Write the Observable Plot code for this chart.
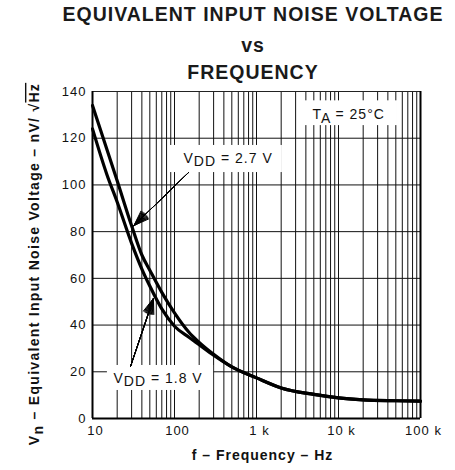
<!DOCTYPE html>
<html><head><meta charset="utf-8">
<script src="https://cdn.jsdelivr.net/npm/d3@7"></script>
<script src="https://cdn.jsdelivr.net/npm/@observablehq/plot@0.6"></script>
<style>
body{margin:0;background:#fff;font-family:"Liberation Sans",Arial,sans-serif;overflow:hidden;}
#title{width:455px;height:80px;position:relative;}
.t{position:absolute;left:53px;width:400px;text-align:center;font-weight:bold;font-size:19.5px;line-height:20px;letter-spacing:1px;color:#1a1a1a;white-space:nowrap;}
</style></head><body>
<div id="title">
<div class="t" style="top:4px">EQUIVALENT INPUT NOISE VOLTAGE</div>
<div class="t" style="top:35px">vs</div>
<div class="t" style="top:62px">FREQUENCY</div>
</div>
<div id="chart"></div>
<script>
// Curve for VDD = 2.7 V (upper)
const freq27 = [10, 20, 30, 40, 50, 70, 100, 150, 200, 300, 500, 1000, 2000, 5000, 10000, 20000, 50000, 100000];
const vn27   = [134, 101.8, 82.5, 70, 63.5, 54, 45.2, 36.9, 32.6, 27.5, 22.1, 17.4, 13.1, 10.3, 8.8, 8.0, 7.6, 7.4];
// Curve for VDD = 1.8 V (lower)
const freq18 = [10, 15, 20, 30, 40, 50, 70, 100, 150, 200, 300, 500, 1000, 2000, 5000, 10000, 20000, 50000, 100000];
const vn18   = [124, 104.4, 92.7, 75, 64, 56.7, 46.9, 39.5, 34.8, 31.6, 27.1, 22.1, 17.4, 13.1, 10.3, 8.8, 8.0, 7.6, 7.4];

const xTicks = [10, 100, 1000, 10000, 100000];
const xTickLabels = ["10", "100", "1 k", "10 k", "100 k"];
const yTicks = [0, 20, 40, 60, 80, 100, 120, 140];
const decades = [10, 100, 1000, 10000];
const mult = [1, 2, 3, 4, 5, 6, 7, 8, 9];

// annotations
const labelText = ["V{DD} = 2.7 V", "V{DD} = 1.8 V", "T{A} = 25°C"];
const labelF = [128.8, 18.0, 4820];
const labelV = [111.5, 17.3, 130.2];
const boxF1 = [89, 15.2, 3743];
const boxF2 = [2070, 300, 52400];
const boxV1 = [105.3, 12, 125.4];
const boxV2 = [116.9, 22.7, 136];
const arrowF1 = [148.2, 29.1];
const arrowV1 = [105.3, 22.3];
const arrowF2 = [32.0, 55.4];
const arrowV2 = [82.6, 51.4];

const d27 = freq27.map((f, i) => ({f, v: vn27[i]}));
const d18 = freq18.map((f, i) => ({f, v: vn18[i]}));
const gridX = decades.flatMap(d => mult.map(m => d * m)).filter(f => f > 10 && f < 100000);
const labels = labelText.map((t, i) => ({t, f: labelF[i], v: labelV[i]}));
const boxes = boxF1.map((f, i) => ({f1: f, f2: boxF2[i], v1: boxV1[i], v2: boxV2[i]}));
const arrows = arrowF1.map((f, i) => ({f1: f, v1: arrowV1[i], f2: arrowF2[i], v2: arrowV2[i]}));
const headAngles = [40, 34, 28, 22, 16, 10, 4];

const plot = Plot.plot({
  width: 455, height: 390,
  marginLeft: 92, marginRight: 35, marginTop: 11, marginBottom: 52,
  style: {fontFamily: '"Liberation Sans", Arial, sans-serif', fontSize: "13px", color: "#111", background: "white", overflow: "visible"},
  x: {type: "log", domain: [10, 100000]},
  y: {domain: [0, 140]},
  marks: [
    Plot.ruleX(gridX, {stroke: "#111", strokeWidth: 1}),
    Plot.ruleY(yTicks.filter(v => v > 0 && v < 140), {stroke: "#111", strokeWidth: 1}),
    Plot.rect(boxes, {x1: "f1", x2: "f2", y1: "v1", y2: "v2", fill: "white"}),
    Plot.line(d18, {x: "f", y: "v", stroke: "black", strokeWidth: 3.2, curve: "monotone-x"}),
    Plot.line(d27, {x: "f", y: "v", stroke: "black", strokeWidth: 3.2, curve: "monotone-x"}),
    ...headAngles.map(a => Plot.arrow(arrows, {x1: "f1", y1: "v1", x2: "f2", y2: "v2", stroke: "black", strokeWidth: 1, headAngle: a, headLength: 24})),
    Plot.text(labels, {x: "f", y: "v", text: "t", textAnchor: "start", lineAnchor: "middle", fontSize: 14, fill: "#111"}),
    Plot.ruleY([140], {stroke: "#222", strokeWidth: 1}),
    Plot.ruleY([0], {stroke: "black", strokeWidth: 2}),
    Plot.ruleX([10, 100000], {stroke: "black", strokeWidth: 2}),
    Plot.axisX({ticks: xTicks, tickFormat: d => xTickLabels[xTicks.indexOf(d)], tickSize: 0, tickPadding: 7, fontSize: 13, dx: 3, label: null}),
    Plot.axisY({ticks: yTicks, tickSize: 0, tickPadding: 6, fontSize: 13, label: null}),
    Plot.text(["V{n} – Equivalent Input Noise Voltage – nV/ √[Hz]"], {frameAnchor: "left", textAnchor: "middle", rotate: -90, dx: -58, dy: 9, lineAnchor: "middle", fontSize: 14, fontWeight: "bold", fill: "#111"}),
    Plot.text(["f – Frequency – Hz"], {frameAnchor: "bottom", textAnchor: "middle", lineAnchor: "bottom", dy: 41, dx: 6, fontSize: 14, fontWeight: "bold", fill: "#111"})
  ]
});

// rich text: {..} subscript, [..] overline
plot.querySelectorAll("text").forEach(t => {
  const s = t.textContent;
  if (!/[{\[]/.test(s)) return;
  const parts = s.split(/(\{[^}]*\}|\[[^\]]*\])/).filter(p => p);
  while (t.firstChild) t.removeChild(t.firstChild);
  let shifted = false;
  parts.forEach(p => {
    const ts = document.createElementNS("http://www.w3.org/2000/svg", "tspan");
    if (p[0] === "{") { ts.textContent = p.slice(1, -1); ts.setAttribute("dy", "0.28em"); shifted = true; }
    else if (p[0] === "[") { ts.textContent = p.slice(1, -1); ts.setAttribute("text-decoration", "overline"); ts.style.textDecoration = "overline"; }
    else { ts.textContent = p; if (shifted) { ts.setAttribute("dy", "-0.28em"); shifted = false; } }
    t.appendChild(ts);
  });
});
plot.querySelectorAll("text").forEach(t => {
  t.style.letterSpacing = t.textContent.startsWith("Vn –") ? "1.3px" : "1px";
});
document.getElementById("chart").appendChild(plot);
</script>
</body></html>
